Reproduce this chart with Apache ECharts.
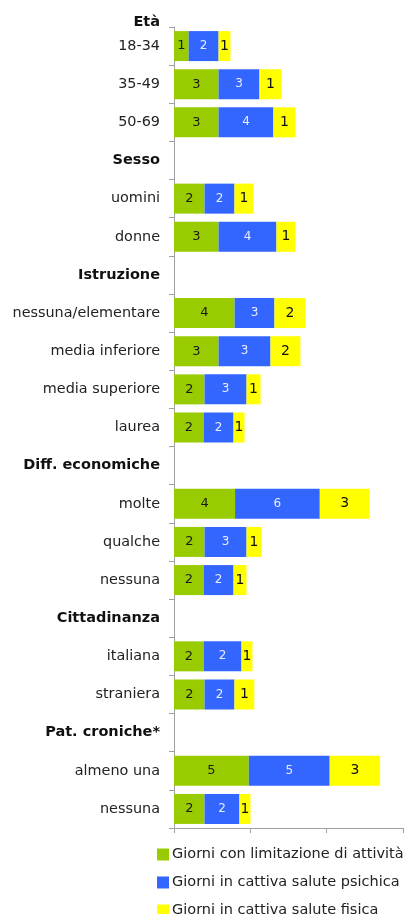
<!DOCTYPE html>
<html>
<head>
<meta charset="utf-8">
<script src="https://cdn.jsdelivr.net/npm/echarts@6/dist/echarts.min.js"></script>
<style>
  html, body { margin: 0; padding: 0; background: #fff; }
  #chart { width: 410px; height: 914px; }
</style>
</head>
<body>
<div id="chart"></div>
<script>
// categories (top to bottom); group headers are drawn bold
var categories = ['18-34', '35-49', '50-69', 'Sesso', 'uomini', 'donne', 'Istruzione',
    'nessuna/elementare', 'media inferiore', 'media superiore', 'laurea', 'Diff. economiche',
    'molte', 'qualche', 'nessuna', 'Cittadinanza', 'italiana', 'straniera', 'Pat. croniche*',
    'almeno una', 'nessuna'];
var headers = ['Sesso', 'Istruzione', 'Diff. economiche', 'Cittadinanza', 'Pat. croniche*'];

var limitazione = [0.96, 2.92, 2.92, '-', 2.0, 2.92, '-', 3.97, 2.92, 2.0, 1.94, '-', 4.0, 2.0, 1.94, '-', 1.94, 2.0, '-', 4.9, 2.0];
var psichica = [1.96, 2.68, 3.59, '-', 1.96, 3.79, '-', 2.61, 3.4, 2.75, 1.96, '-', 5.55, 2.75, 1.96, '-', 2.48, 1.96, '-', 5.3, 2.29];
var fisica = [0.78, 1.44, 1.45, '-', 1.24, 1.24, '-', 2.03, 1.96, 0.92, 0.72, '-', 3.27, 0.98, 0.85, '-', 0.72, 1.3, '-', 3.3, 0.72];

var chart = echarts.init(document.getElementById('chart'));

function roundLabel(p) {
    return Math.round(p.value);
}

function bar(name, values, color, labelColor, labelSize) {
    return {
        name: name,
        type: 'bar',
        stack: 'tot',
        barWidth: 30,
        data: values,
        itemStyle: { color: color },
        label: {
            show: true,
            position: 'inside',
            formatter: roundLabel,
            color: labelColor,
            fontSize: labelSize,
            fontFamily: 'DejaVu Sans'
        }
    };
}

var option = {
    animation: false,
    textStyle: { fontFamily: 'DejaVu Sans' },
    title: {
        text: 'Età',
        right: 250,
        top: 15,
        padding: 0,
        textStyle: { fontSize: 14.5, fontWeight: 'bold', color: '#111', fontFamily: 'DejaVu Sans' }
    },
    grid: { left: 174, right: 7, top: 27, bottom: 86, containLabel: false },
    xAxis: {
        type: 'value',
        min: 0,
        max: 15,
        interval: 5,
        axisLine: { show: true, lineStyle: { color: '#a0a0a0' } },
        axisTick: { show: true, length: 5, lineStyle: { color: '#a0a0a0' } },
        axisLabel: { show: false },
        splitLine: { show: false }
    },
    yAxis: {
        type: 'category',
        inverse: true,
        data: categories,
        axisLine: { show: true, lineStyle: { color: '#a0a0a0' } },
        axisTick: { show: true, length: 5, lineStyle: { color: '#a0a0a0' } },
        axisLabel: {
            margin: 14,
            formatter: function (v) {
                return headers.indexOf(v) >= 0 ? '{h|' + v + '}' : '{n|' + v + '}';
            },
            rich: {
                h: { fontSize: 14.5, fontWeight: 'bold', color: '#111', fontFamily: 'DejaVu Sans' },
                n: { fontSize: 14.4, color: '#222', fontFamily: 'DejaVu Sans' }
            }
        }
    },
    legend: {
        orient: 'vertical',
        left: 157,
        top: 847,
        width: 260,
        height: 90,
        itemWidth: 12,
        itemHeight: 12,
        itemGap: 13,
        padding: 0,
        icon: 'rect',
        textStyle: { fontSize: 14.5, lineHeight: 14, color: '#222', fontFamily: 'DejaVu Sans', padding: [0, 0, 0, -2] },
        data: ['Giorni con limitazione di attività', 'Giorni in cattiva salute psichica', 'Giorni in cattiva salute fisica']
    },
    series: [
        bar('Giorni con limitazione di attività', limitazione, '#99CC00', '#1a1a1a', 13),
        bar('Giorni in cattiva salute psichica', psichica, '#3366FF', '#e8ecff', 12),
        bar('Giorni in cattiva salute fisica', fisica, '#FFFF00', '#111', 14)
    ]
};

chart.setOption(option);
</script>
</body>
</html>
